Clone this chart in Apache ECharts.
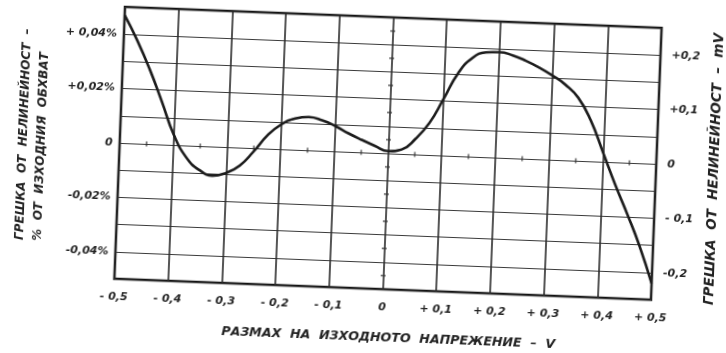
<!DOCTYPE html>
<html>
<head>
<meta charset="utf-8">
<script src="https://cdn.jsdelivr.net/npm/echarts@6/dist/echarts.min.js"></script>
<style>
  html, body { margin: 0; padding: 0; background: #fff; width: 726px; height: 353px; overflow: hidden; }
  #chart { position: absolute; left: 0; top: 0; width: 800px; height: 400px; background: #fff;
           transform-origin: 125px 7px; transform: rotate(2.24deg); }
</style>
</head>
<body>
<div id="chart"></div>
<script>
// Output swing (V)
const xVolts = [-0.5, -0.475, -0.45, -0.425, -0.4, -0.375, -0.35, -0.325, -0.3, -0.275, -0.25, -0.225,
  -0.2, -0.175, -0.15, -0.125, -0.1, -0.075, -0.05, -0.025, 0, 0.025, 0.05, 0.075, 0.1, 0.125, 0.15,
  0.175, 0.2, 0.225, 0.25, 0.275, 0.3, 0.325, 0.35, 0.375, 0.4, 0.425, 0.45, 0.475, 0.5];
// Nonlinearity error, % of output range
const errPercent = [0.047, 0.038, 0.0277, 0.016, 0.0038, -0.0044, -0.0088, -0.0107, -0.0095, -0.0066, -0.0012, 0.005,
  0.0092, 0.0115, 0.0122, 0.0112, 0.0093, 0.0068, 0.0046, 0.0026, 0.0008, 0.0016, 0.0057, 0.0118, 0.021, 0.0305, 0.0362,
  0.0385, 0.0388, 0.0378, 0.036, 0.0337, 0.031, 0.0278, 0.0232, 0.015, 0.0035, -0.0082, -0.019, -0.0305, -0.044];

// Tick labels
const xTickValues = [-0.5, -0.4, -0.3, -0.2, -0.1, 0, 0.1, 0.2, 0.3, 0.4, 0.5];
const xTickLabels = ['- 0,5', '- 0,4', '- 0,3', '- 0,2', '- 0,1', '0', '+ 0,1', '+ 0,2', '+ 0,3', '+ 0,4', '+ 0,5'];
const leftTickValues = [0.04, 0.02, 0, -0.02, -0.04];
const leftTickLabels = ['+ 0,04%', '+0,02%', '0', '-0,02%', '-0,04%'];
const rightTickValues = [0.2, 0.1, 0, -0.1, -0.2];
const rightTickLabels = ['+0,2', '+0,1', '0', '- 0,1', '-0,2'];

// Small marks on the zero lines
const zeroLineMarksX = [-0.45, -0.35, -0.25, -0.15, -0.05, 0.05, 0.15, 0.25, 0.35, 0.45];
const zeroLineMarksY = [-0.045, -0.035, -0.025, -0.015, -0.005, 0.005, 0.015, 0.025, 0.035, 0.045];

const titleX = 'РАЗМАХ  НА  ИЗХОДНОТО  НАПРЕЖЕНИЕ  –  V';
const titleLeft1 = 'ГРЕШКА  ОТ  НЕЛИНЕЙНОСТ  –';
const titleLeft2 = '%  ОТ  ИЗХОДНИЯ  ОБХВАТ';
const titleRight = 'ГРЕШКА  ОТ  НЕЛИНЕЙНОСТ  –  mV';

function lookup(values, labels, v, scale) {
  for (let i = 0; i < values.length; i++) {
    if (Math.round(values[i] * scale) === Math.round(v * scale)) return labels[i];
  }
  return '';
}

const FONT = 'DejaVu Sans';
const INK = '#222';
const labelStyle = { fontFamily: FONT, fontStyle: 'italic', fontWeight: 'bold', fontSize: 11, color: INK };

const chart = echarts.init(document.getElementById('chart'), null, { renderer: 'canvas' });
chart.setOption({
  animation: false,
  backgroundColor: '#fff',
  grid: { left: 125, top: 7, width: 537, height: 272, show: true, borderColor: '#111', borderWidth: 2.5,
          backgroundColor: 'transparent', containLabel: false, outerBoundsMode: 'none' },
  xAxis: {
    type: 'value', min: -0.5, max: 0.5, interval: 0.1,
    axisLine: { show: false }, axisTick: { show: false },
    axisLabel: Object.assign({ margin: 13, showMinLabel: true, showMaxLabel: true,
      formatter: v => lookup(xTickValues, xTickLabels, v, 100) }, labelStyle),
    splitLine: { show: true, lineStyle: { color: '#2b2b2b', width: 1.6 } }
  },
  yAxis: [{
    type: 'value', min: -0.05, max: 0.05, interval: 0.01, position: 'left',
    axisLine: { show: false }, axisTick: { show: false },
    axisLabel: Object.assign({ margin: 7, showMinLabel: true, showMaxLabel: true,
      formatter: v => lookup(leftTickValues, leftTickLabels, v, 1000) }, labelStyle),
    splitLine: { show: true, lineStyle: { color: '#3a3a3a', width: 1.1 } }
  }, {
    type: 'value', min: -0.25, max: 0.25, interval: 0.05, position: 'right',
    axisLine: { show: false }, axisTick: { show: false },
    axisLabel: Object.assign({ margin: 11, showMinLabel: true, showMaxLabel: true,
      formatter: v => lookup(rightTickValues, rightTickLabels, v, 100) }, labelStyle),
    splitLine: { show: false }
  }],
  graphic: [
    { type: 'text', x: 401, y: 328, style: { text: titleX, fill: INK, font: 'italic bold 12.6px "DejaVu Sans"', align: 'center', verticalAlign: 'middle' } },
    { type: 'text', x: 29, y: 244, rotation: Math.PI / 2, style: { text: titleLeft1, fill: INK, font: 'italic bold 12px "DejaVu Sans"', align: 'left', verticalAlign: 'middle' } },
    { type: 'text', x: 47, y: 244, rotation: Math.PI / 2, style: { text: titleLeft2, fill: INK, font: 'italic bold 12px "DejaVu Sans"', align: 'left', verticalAlign: 'middle' } },
    { type: 'text', x: 720, y: 146, rotation: Math.PI / 2, style: { text: titleRight, fill: INK, font: 'italic bold 13.5px "DejaVu Sans"', align: 'center', verticalAlign: 'middle' } }
  ],
  series: [{
    type: 'line', yAxisIndex: 0, smooth: 0.5, showSymbol: false,
    lineStyle: { color: '#1c1c1c', width: 2.6 },
    data: xVolts.map((x, i) => [x, errPercent[i]]),
    z: 5
  }, {
    type: 'scatter', yAxisIndex: 0, symbol: 'rect', symbolSize: [1.5, 5], silent: true,
    itemStyle: { color: '#333' },
    data: zeroLineMarksX.map(x => [x, 0])
  }, {
    type: 'scatter', yAxisIndex: 0, symbol: 'rect', symbolSize: [5, 1.5], silent: true,
    itemStyle: { color: '#333' },
    data: zeroLineMarksY.map(y => [0, y])
  }]
});
</script>
</body>
</html>
